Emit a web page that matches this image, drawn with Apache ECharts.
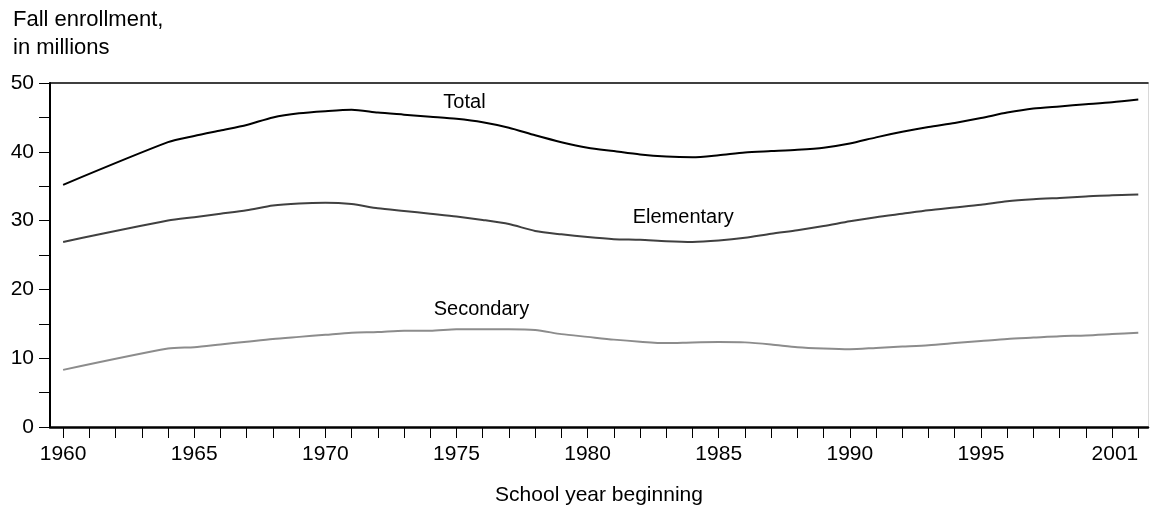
<!DOCTYPE html>
<html>
<head>
<meta charset="utf-8">
<script src="https://cdn.jsdelivr.net/npm/echarts@6/dist/echarts.min.js"></script>
<style>html,body{margin:0;padding:0;background:#fff}#c{width:1150px;height:512px}</style>
</head>
<body>
<div id="c"></div>
<script>
const years = [1960,1964,1965,1966,1967,1968,1969,1970,1971,1972,1973,1974,1975,1976,1977,1978,1979,1980,1981,1982,1983,1984,1985,1986,1987,1988,1989,1990,1991,1992,1993,1994,1995,1996,1997,1998,1999,2000,2001];
const total = [35.2,41.4,42.3,43.1,43.9,45.0,45.6,45.9,46.1,45.7,45.4,45.1,44.8,44.3,43.5,42.4,41.4,40.6,40.1,39.6,39.3,39.2,39.5,39.9,40.1,40.3,40.6,41.2,42.1,42.9,43.6,44.2,44.9,45.7,46.3,46.6,46.9,47.2,47.6];
const elementary = [26.9,30.0,30.5,31.0,31.5,32.2,32.5,32.6,32.4,31.8,31.4,31.0,30.6,30.1,29.5,28.5,28.0,27.6,27.3,27.2,27.0,26.9,27.1,27.5,28.1,28.6,29.2,29.9,30.5,31.0,31.5,31.9,32.3,32.8,33.1,33.3,33.5,33.7,33.8];
const secondary = [8.3,11.4,11.6,12.0,12.4,12.8,13.1,13.4,13.7,13.8,14.0,14.0,14.2,14.2,14.2,14.1,13.5,13.1,12.7,12.4,12.2,12.3,12.35,12.3,12.0,11.6,11.4,11.3,11.5,11.7,11.9,12.2,12.5,12.8,13.0,13.2,13.3,13.5,13.7];
const tickYears = Array.from({length: 42}, (_, i) => 1960 + i);
const labelYears = [1960,1965,1970,1975,1980,1985,1990,1995,2001];
const seriesNames = ['Total','Elementary','Secondary'];

const FONT = "'Liberation Sans', Arial, sans-serif";

function build(values, name, labelYear, offset) {
  return years.map((y, i) => {
    const item = { value: [y, values[i]] };
    if (y === labelYear) {
      item.label = { show: true, formatter: name, position: 'top', distance: 0, offset: offset,
        color: '#000', fontSize: 20, fontFamily: FONT };
    }
    return item;
  });
}

const chart = echarts.init(document.getElementById('c'), null, {renderer: 'canvas'});
chart.setOption({
  animation: false,
  backgroundColor: '#fff',
  title: {
    text: 'Fall enrollment,\nin millions',
    left: 8, top: 1,
    textStyle: { fontSize: 22, fontWeight: 'normal', color: '#000', fontFamily: FONT, lineHeight: 28 }
  },
  grid: { left: 50, right: 2, top: 83, bottom: 85, outerBoundsMode: 'none', containLabel: false },
  xAxis: [{
    type: 'value', min: 1959.5, max: 2001.37,
    name: 'School year beginning', nameLocation: 'middle', nameGap: 58,
    nameTextStyle: { fontSize: 21, color: '#000', fontFamily: FONT },
    axisLine: { show: true, onZero: false, lineStyle: { color: '#000', width: 2.5 } },
    axisTick: { show: true, inside: false, length: 11, customValues: tickYears, lineStyle: { color: '#000', width: 1 } },
    axisLabel: { show: true, customValues: labelYears, margin: 17, fontSize: 21, color: '#000', fontFamily: FONT,
      alignMaxLabel: 'right', formatter: v => String(v) },
    splitLine: { show: false }
  }, {
    type: 'value', min: 1959.5, max: 2001.37, position: 'top',
    axisLine: { show: true, onZero: false, lineStyle: { color: '#000', width: 1.5 } },
    axisTick: { show: false }, axisLabel: { show: false }, splitLine: { show: false }
  }],
  yAxis: [{
    type: 'value', min: 0, max: 50, interval: 5,
    axisLine: { show: true, onZero: false, lineStyle: { color: '#000', width: 2 } },
    axisTick: { show: true, inside: false, length: 11, lineStyle: { color: '#000', width: 1 } },
    axisLabel: { margin: 16, fontSize: 21, color: '#000', fontFamily: FONT,
      formatter: v => (v % 10 === 0 ? String(v) : '') },
    splitLine: { show: false }
  }, {
    type: 'value', min: 0, max: 50, position: 'right',
    axisLine: { show: true, onZero: false, lineStyle: { color: '#d8d8d8', width: 1 } },
    axisTick: { show: false }, axisLabel: { show: false }, splitLine: { show: false }
  }],
  series: [
    { name: seriesNames[0], type: 'line', smooth: 0.25, symbol: 'circle', symbolSize: 0, showAllSymbol: true,
      lineStyle: { color: '#000', width: 2 }, data: build(total, seriesNames[0], 1975, [8, -6]) },
    { name: seriesNames[1], type: 'line', smooth: 0.25, symbol: 'circle', symbolSize: 0, showAllSymbol: true,
      lineStyle: { color: '#404040', width: 2 }, data: build(elementary, seriesNames[1], 1983, [17, -14]) },
    { name: seriesNames[2], type: 'line', smooth: 0.25, symbol: 'circle', symbolSize: 0, showAllSymbol: true,
      lineStyle: { color: '#8c8c8c', width: 2 }, data: build(secondary, seriesNames[2], 1975, [25, -10]) }
  ]
});
</script>
</body>
</html>
